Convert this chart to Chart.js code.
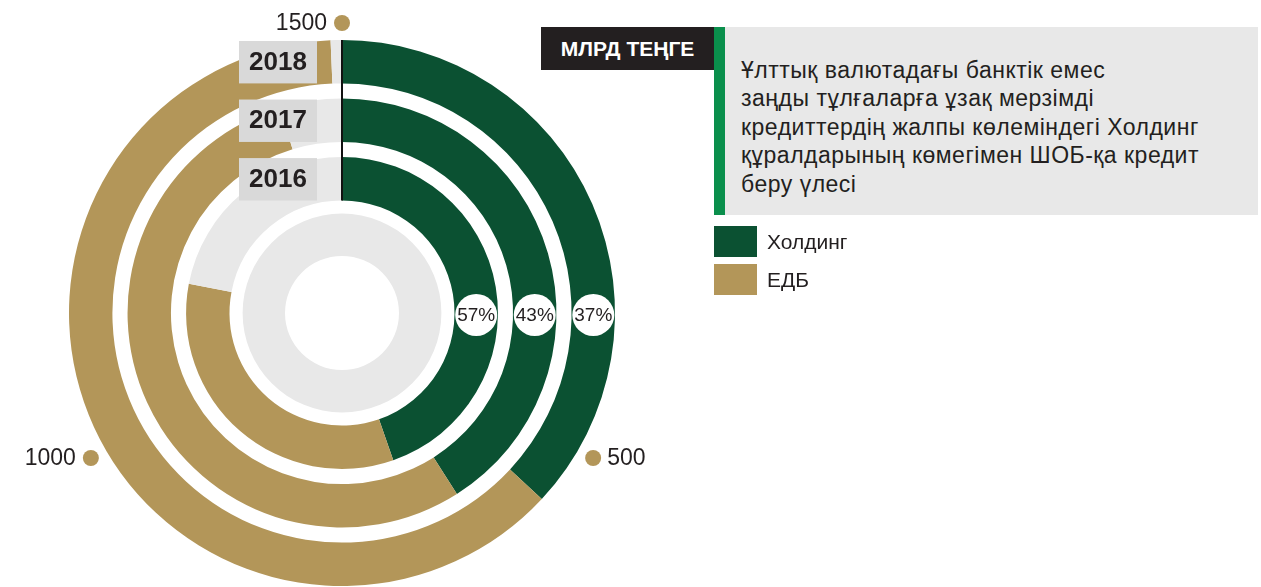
<!DOCTYPE html>
<html>
<head>
<meta charset="utf-8">
<script src="https://cdn.jsdelivr.net/npm/chart.js@4.4.1/dist/chart.umd.min.js"></script>
<style>
  html, body { margin: 0; padding: 0; background: #fff; }
  body { width: 1261px; height: 587px; position: relative; overflow: hidden; font-family: "Liberation Sans", Arial, sans-serif; }
  #wrap { position: absolute; left: 0; top: 0; width: 1261px; height: 587px; }
  .unit { position: absolute; left: 541px; top: 27px; width: 173px; height: 43px; background: #231f20; color: #fff;
          font-weight: bold; font-size: 21px; line-height: 43px; text-align: center; }
  .note { position: absolute; left: 714px; top: 27px; width: 544px; height: 188px; background: #e8e8e8;
          border-left: 11px solid #0a8f4c; padding: 29px 0 0 16px; box-sizing: border-box;
          font-size: 23px; letter-spacing: 0.5px; line-height: 28.4px; color: #231f20; }
  .legend { position: absolute; left: 714px; top: 226px; }
  .legend div { height: 38px; position: relative; font-size: 21px; color: #231f20; }
  .legend span.sw { position: absolute; left: 0; top: 0; width: 43px; height: 31px; }
  .legend span.tx { position: absolute; left: 53px; top: 3px; line-height: 26px; }
</style>
</head>
<body>
<div id="wrap"><canvas id="rings"></canvas></div>
<div class="unit">МЛРД ТЕҢГЕ</div>
<div class="note">Ұлттық валютадағы банктік емес<br>заңды тұлғаларға ұзақ мерзімді<br>кредиттердің жалпы көлеміндегі Холдинг<br>құралдарының көмегімен ШОБ-қа кредит<br>беру үлесі</div>
<div class="legend" id="legend"></div>
<script>
const years = ['2018', '2017', '2016'];
const holding = [554, 615, 670];
const edb = [936, 815, 500];
const scaleMax = 1500;
const scaleTicks = [500, 1000, 1500];
const seriesNames = ['Холдинг', 'ЕДБ'];

const GREEN = '#0b5132';
const TAN = '#b39659';
const TRACK = '#e8e8e8';
const BOX = '#d9d9d9';

// rings go outer -> inner, with white spacer rings between them
const datasets = [];
years.forEach((y, i) => {
  datasets.push({
    label: y,
    data: [holding[i], edb[i], scaleMax - holding[i] - edb[i]],
    backgroundColor: [GREEN, TAN, TRACK],
    weight: 43
  });
  datasets.push({ label: 'gap', data: [1], backgroundColor: ['rgba(0,0,0,0)'], weight: i < 2 ? 15 : 13 });
});
datasets.push({ label: 'inner', data: [scaleMax], backgroundColor: [TRACK], weight: 42 });

const legendEl = document.getElementById('legend');
[GREEN, TAN].forEach((c, i) => {
  legendEl.innerHTML += `<div><span class="sw" style="background:${c}"></span><span class="tx">${seriesNames[i]}</span></div>`;
});

const overlay = {
  id: 'overlay',
  afterDatasetsDraw(chart) {
    const ctx = chart.ctx;
    const outer = chart.getDatasetMeta(0).data[0];
    const cx = outer.x, cy = outer.y;
    const R = outer.outerRadius;

    // scale dots
    scaleTicks.forEach(t => {
      const a = t / scaleMax * Math.PI * 2;
      const r = R + 17;
      const x = cx + Math.sin(a) * r, y = cy - Math.cos(a) * r;
      ctx.beginPath();
      ctx.arc(x, y, 8, 0, Math.PI * 2);
      ctx.fillStyle = TAN;
      ctx.fill();
      ctx.font = '23px "Liberation Sans", Arial, sans-serif';
      ctx.fillStyle = '#231f20';
      ctx.textBaseline = 'middle';
      if (x > cx + 1) {
        ctx.textAlign = 'left';
        ctx.fillText(String(t), x + 14, y + 1);
      } else {
        ctx.textAlign = 'right';
        ctx.fillText(String(t), x - 15, y + 1);
      }
    });

    // year boxes and zero line
    let lineTop = null, lineBottom = null;
    years.forEach((y, i) => {
      const arc = chart.getDatasetMeta(i * 2).data[0];
      const top = cy - arc.outerRadius, bot = cy - arc.innerRadius;
      if (lineTop === null) lineTop = top;
      lineBottom = bot;
      ctx.fillStyle = BOX;
      ctx.fillRect(cx - 103, top + 1, 78, bot - top - 1);
      ctx.fillStyle = '#231f20';
      ctx.font = 'bold 26px "Liberation Sans", Arial, sans-serif';
      ctx.textAlign = 'center';
      ctx.textBaseline = 'middle';
      ctx.fillText(y, cx - 64, (top + bot) / 2 + 1);

      // share label
      const mid = (arc.outerRadius + arc.innerRadius) / 2;
      const pct = Math.round(holding[i] / (holding[i] + edb[i]) * 100) + '%';
      ctx.beginPath();
      ctx.arc(cx + mid, cy + 2, 21, 0, Math.PI * 2);
      ctx.fillStyle = '#fff';
      ctx.fill();
      ctx.fillStyle = '#231f20';
      ctx.font = '19px "Liberation Sans", Arial, sans-serif';
      ctx.fillText(pct, cx + mid, cy + 3);
    });
    ctx.beginPath();
    ctx.moveTo(cx, lineTop);
    ctx.lineTo(cx, lineBottom);
    ctx.lineWidth = 2;
    ctx.strokeStyle = '#111';
    ctx.stroke();
  }
};

new Chart(document.getElementById('rings'), {
  type: 'doughnut',
  data: { labels: ['Холдинг', 'ЕДБ', ''], datasets },
  options: {
    responsive: true,
    maintainAspectRatio: false,
    animation: false,
    events: [],
    radius: 273,
    cutout: 57,
    borderWidth: 0,
    hoverBorderWidth: 0,
    hoverOffset: 0,
    layout: { padding: { left: 69, top: 40, right: 646, bottom: 1 } },
    plugins: { legend: { display: false }, tooltip: { enabled: false } }
  },
  plugins: [overlay]
});
</script>
</body>
</html>
